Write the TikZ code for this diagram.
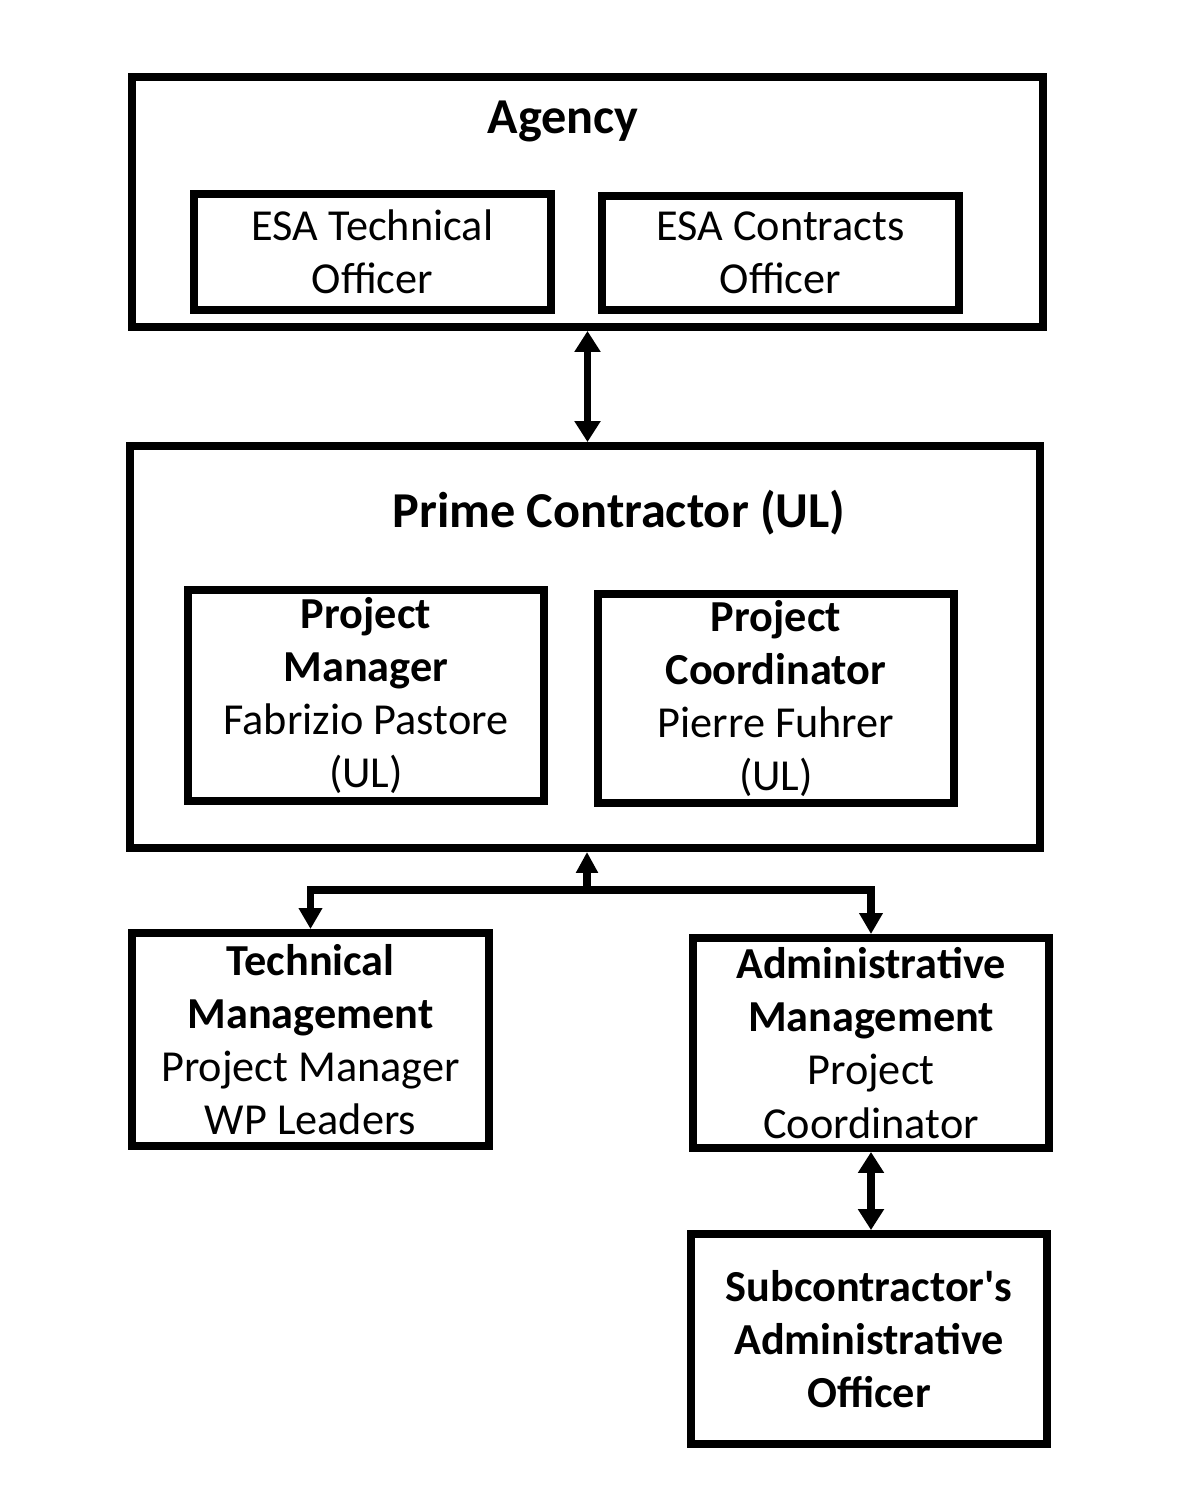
\documentclass[tikz,border=0pt]{standalone}
\usepackage{fontspec}
\setmainfont{Carlito}
\usepackage{tikz}
\usetikzlibrary{arrows.meta}
\usetikzlibrary{calc}
\tikzstyle{every node}=[font=\fontsize{25.2}{30.2}\selectfont]
\tikzstyle{every path}=[line width=4.5pt,line join=miter]
\tikzstyle{orgbox}=[draw,inner sep=0pt,align=center]
\tikzstyle{boxtitle}=[font=\fontsize{28.6}{34}\selectfont\bfseries]
\tikzstyle{link}=[line width=4.2pt,{Triangle[length=0.42cm,width=0.5cm]}-{Triangle[length=0.42cm,width=0.5cm]}]

\begin{document}
\begin{tikzpicture}[x=0.02cm,y=-0.02cm]
\useasboundingbox (0,0) rectangle (1198,1495);
% agency
\node[orgbox,minimum width=911*0.02cm,minimum height=250*0.02cm] (agency) at (587.5,202) {};
\node[boxtitle] (agencytitle) at (563,121) {Agency};
\node[orgbox,minimum width=357*0.02cm,minimum height=116*0.02cm] (techoff) at (372.5,252) {ESA Technical\\Officer};
\node[orgbox,minimum width=357*0.02cm,minimum height=114*0.02cm] (contoff) at (780.5,253) {ESA Contracts\\Officer};
% prime contractor
\node[orgbox,minimum width=910*0.02cm,minimum height=402*0.02cm] (prime) at (585,647) {};
\node[boxtitle] (primetitle) at (619,513) {Prime Contractor (UL)};
\node[orgbox,minimum width=356*0.02cm,minimum height=211*0.02cm] (pm) at (366,695.5)
  {\textbf{Project}\\\textbf{Manager}\\Fabrizio Pastore\\(UL)};
\node[orgbox,minimum width=356*0.02cm,minimum height=209*0.02cm] (pc) at (776,698.5)
  {\textbf{Project}\\\textbf{Coordinator}\\Pierre Fuhrer\\(UL)};
% management
\node[orgbox,minimum width=357*0.02cm,minimum height=213*0.02cm] (techman) at (310.5,1039.5)
  {\textbf{Technical}\\\textbf{Management}\\Project Manager\\WP Leaders};
\node[orgbox,minimum width=356*0.02cm,minimum height=210*0.02cm] (adminman) at (871,1043)
  {\textbf{Administrative}\\\textbf{Management}\\Project\\Coordinator};
\node[orgbox,minimum width=356*0.02cm,minimum height=210*0.02cm] (subadmin) at (869,1339)
  {\textbf{Subcontractor\textquotesingle s}\\\textbf{Administrative}\\\textbf{Officer}};
% links
\draw[link] (agency.south) -- (agency.south |- prime.north);
\coordinate (junction) at (587,890);
\draw[link,{Triangle[length=0.42cm,width=0.42cm]}-] (prime.south -| junction) -- (junction);
\draw[link,{Triangle[length=0.42cm,width=0.45cm]}-{Triangle[length=0.42cm,width=0.45cm]}]
  (techman.north) |- (junction) -| (adminman.north);
\draw[link] (adminman.south) -- (adminman.south |- subadmin.north);
\end{tikzpicture}
\end{document}
